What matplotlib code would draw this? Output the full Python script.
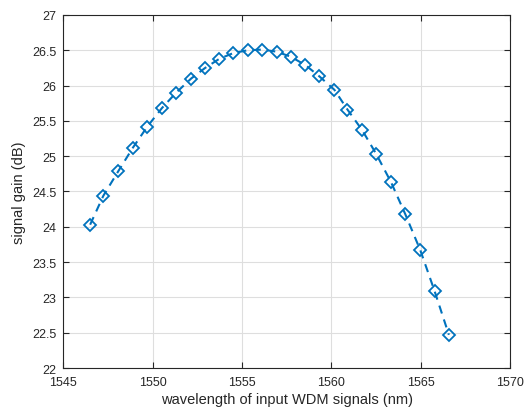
import matplotlib
matplotlib.use("Agg")
import matplotlib.pyplot as plt

wavelength = [1546.51, 1547.25, 1548.09, 1548.90, 1549.71, 1550.52, 1551.32, 1552.16,
              1552.94, 1553.74, 1554.51, 1555.31, 1556.13, 1556.94, 1557.72, 1558.55,
              1559.33, 1560.17, 1560.90, 1561.72, 1562.51, 1563.34, 1564.13, 1564.97,
              1565.77, 1566.57]
gain = [24.03, 24.44, 24.79, 25.12, 25.42, 25.68, 25.90, 26.10, 26.25, 26.38, 26.46,
        26.50, 26.51, 26.48, 26.41, 26.29, 26.13, 25.94, 25.66, 25.37, 25.03, 24.63,
        24.18, 23.67, 23.09, 22.47]
xticks = [1545, 1550, 1555, 1560, 1565, 1570]
yticks = [22, 22.5, 23, 23.5, 24, 24.5, 25, 25.5, 26, 26.5, 27]
ytick_labels = ["22", "22.5", "23", "23.5", "24", "24.5", "25", "25.5", "26", "26.5", "27"]

plt.rcParams['font.family'] = ['Liberation Sans', 'DejaVu Sans']

fig = plt.figure(figsize=(5.26, 4.10), dpi=100)
ax = fig.add_axes([0.12, 0.10, 0.85, 0.861])

ax.plot(wavelength, gain, linestyle='--', color='#0072BD', linewidth=1.5,
        marker='D', markersize=6, markerfacecolor='none', markeredgewidth=1.3,
        dashes=(4, 3))

ax.set_xlim(1545, 1570)
ax.set_ylim(22, 27)
ax.set_xticks(xticks)
ax.set_yticks(yticks)
ax.set_yticklabels(ytick_labels)
ax.grid(True, color='#dedede', linewidth=0.8)
ax.set_axisbelow(True)
for s in ax.spines.values():
    s.set_color('#262626')
    s.set_linewidth(0.8)
ax.tick_params(direction='in', top=True, right=True, length=4, width=0.8,
               labelsize=9, colors='#262626')
ax.tick_params(axis='x', pad=6)
ax.tick_params(axis='y', pad=5)
ax.set_xlabel('wavelength of input WDM signals (nm)', fontsize=10.5, color='#262626',
              labelpad=3)
ax.set_ylabel('signal gain (dB)', fontsize=10.5, color='#262626')

fig.savefig('out.png', dpi=100)
